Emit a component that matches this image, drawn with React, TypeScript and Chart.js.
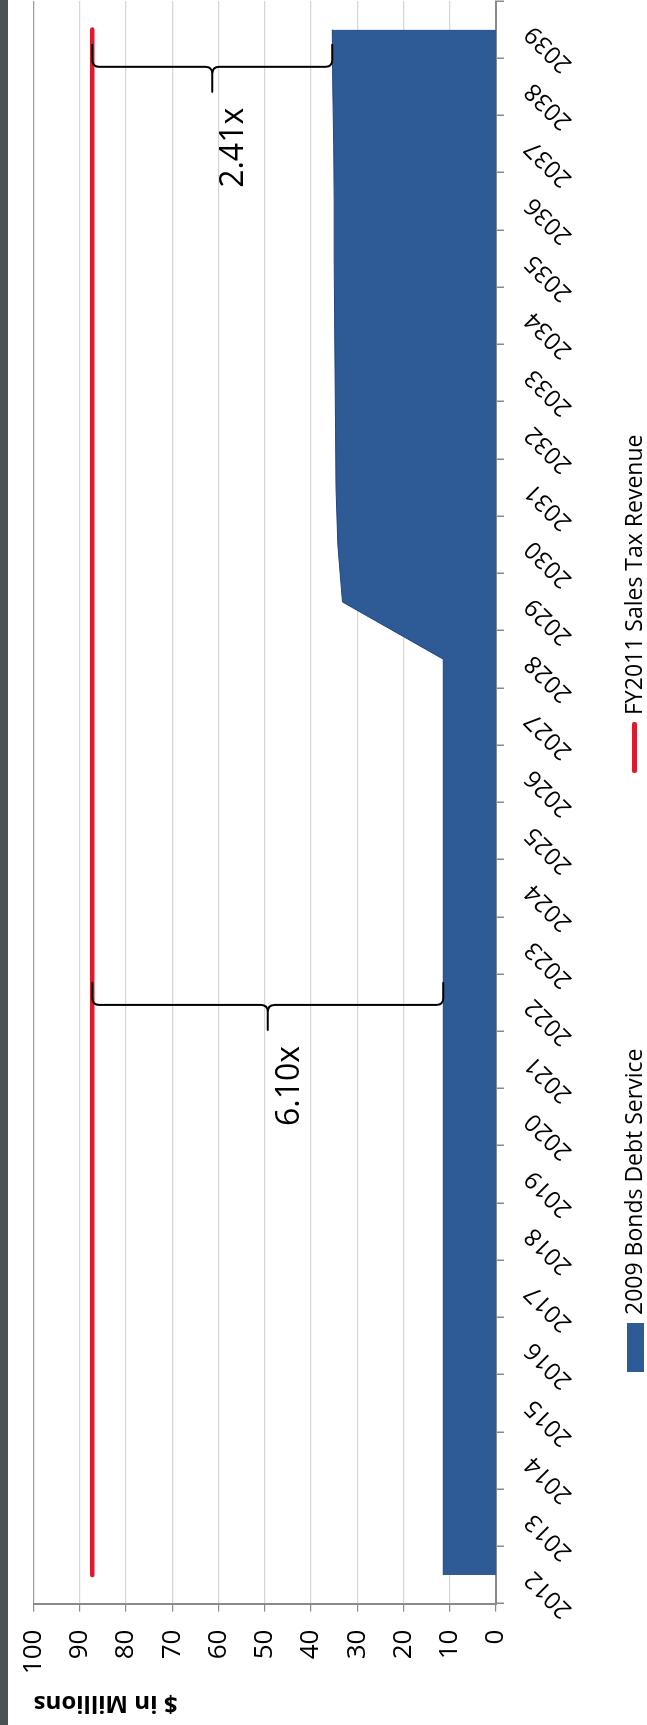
import React, { useEffect, useRef } from 'react';
import { Chart, registerables } from 'chart.js';

Chart.register(...registerables);

const years = [
  '2012', '2013', '2014', '2015', '2016', '2017', '2018', '2019', '2020', '2021',
  '2022', '2023', '2024', '2025', '2026', '2027', '2028', '2029', '2030', '2031',
  '2032', '2033', '2034', '2035', '2036', '2037', '2038', '2039',
];

const debtService = [
  11.4, 11.4, 11.4, 11.4, 11.4, 11.4, 11.4, 11.4, 11.4, 11.4,
  11.4, 11.4, 11.4, 11.4, 11.4, 11.4, 11.4, 33.2, 34.2, 34.6,
  34.7, 34.8, 34.9, 35.0, 35.0, 35.1, 35.3, 35.4,
];

const salesTax = [
  87.3, 87.3, 87.3, 87.3, 87.3, 87.3, 87.3, 87.3, 87.3, 87.3,
  87.3, 87.3, 87.3, 87.3, 87.3, 87.3, 87.3, 87.3, 87.3, 87.3,
  87.3, 87.3, 87.3, 87.3, 87.3, 87.3, 87.3, 87.3,
];

const seriesNames = ['2009 Bonds Debt Service', 'FY2011 Sales Tax Revenue'];
const axisTitle = '$ in Millions';

// coverage annotations: category index where the brace sits, and the two values it spans
const coverageLabels = ['6.10x', '2.41x'];
const coverageAt = [9.96, 26.35];
const coverageFrom = [87.3, 87.3];
const coverageTo = [11.4, 35.4];

const BLUE = '#2e5a95';
const RED = '#e01a2e';
const FONT = '"Open Sans", "DejaVu Sans", sans-serif';

const W = 1740; // original (unrotated) chart width
const H = 700; // original (unrotated) chart height

const bracePlugin = {
  id: 'coverageBraces',
  afterDatasetsDraw(chart: any) {
    const { ctx } = chart;
    const xs = chart.scales.x;
    const ys = chart.scales.y;
    ctx.save();
    ctx.strokeStyle = '#000';
    ctx.lineWidth = 2;
    ctx.lineJoin = 'round';
    ctx.lineCap = 'round';
    coverageLabels.forEach((label, i) => {
      const xb = xs.getPixelForValue(coverageAt[i]);
      const ya = ys.getPixelForValue(coverageFrom[i]);
      const yb = ys.getPixelForValue(coverageTo[i]);
      const ym = (ya + yb) / 2;
      const hook = 22;
      const point = 25;
      const r = 7;
      ctx.beginPath();
      ctx.moveTo(xb + hook, ya);
      ctx.lineTo(xb + r, ya);
      ctx.quadraticCurveTo(xb, ya, xb, ya + r);
      ctx.lineTo(xb, ym - r);
      ctx.quadraticCurveTo(xb, ym, xb - r, ym);
      ctx.lineTo(xb - point, ym);
      ctx.moveTo(xb - r, ym);
      ctx.quadraticCurveTo(xb, ym, xb, ym + r);
      ctx.lineTo(xb, yb - r);
      ctx.quadraticCurveTo(xb, yb, xb + r, yb);
      ctx.lineTo(xb + hook, yb);
      ctx.stroke();
      ctx.fillStyle = '#000';
      ctx.font = `32px ${FONT}`;
      ctx.textAlign = 'right';
      ctx.textBaseline = 'alphabetic';
      ctx.fillText(label, xb - point - 16, ym + 31);
    });
    ctx.restore();
  },
};

function ChartView() {
  const ref = useRef<HTMLCanvasElement | null>(null);
  useEffect(() => {
    if (!ref.current) return;
    const chart = new Chart(ref.current, {
      type: 'line',
      data: {
        labels: years,
        datasets: [
          {
            label: seriesNames[1],
            data: salesTax,
            borderColor: RED,
            backgroundColor: RED,
            borderWidth: 4.5,
            borderCapStyle: 'round',
            pointRadius: 0,
            fill: false,
            tension: 0,
            order: 1,
          },
          {
            label: seriesNames[0],
            data: debtService,
            borderColor: '#22467e',
            backgroundColor: BLUE,
            borderWidth: 1,
            pointRadius: 0,
            fill: 'origin',
            tension: 0,
            order: 2,
          },
        ],
      },
      options: {
        animation: false,
        responsive: false,
        devicePixelRatio: 1,
        layout: { padding: { top: 20.6, right: 16, bottom: 0, left: 0 } },
        plugins: {
          legend: { display: false },
          tooltip: { enabled: false },
        },
        scales: {
          x: {
            type: 'category',
            offset: true,
            grid: {
              display: true,
              drawOnChartArea: false,
              drawTicks: true,
              tickLength: 8,
              offset: true,
              color: '#8a8a8a',
              lineWidth: 1.5,
            },
            border: { display: true, color: '#8a8a8a', width: 2 },
            ticks: {
              autoSkip: false,
              minRotation: 45,
              maxRotation: 45,
              padding: 15,
              color: '#000',
              font: { family: FONT, size: 24 },
            },
            afterFit: (s: any) => {
              s.height = H - 496;
            },
          },
          y: {
            min: 0,
            max: 100,
            ticks: {
              stepSize: 10,
              padding: 18,
              color: '#000',
              font: { family: FONT, size: 26 },
            },
            grid: {
              color: (c: any) => (c.tick && c.tick.value === 100 ? '#9e9e9e' : '#d6d6d6'),
              tickColor: '#8a8a8a',
              tickLength: 8,
              lineWidth: 1.2,
            },
            border: { display: true, color: '#8a8a8a', width: 2 },
            title: {
              display: true,
              text: axisTitle,
              align: 'end',
              color: '#000',
              font: { family: FONT, size: 24, weight: 'bold' },
              padding: { top: 8, bottom: 0 },
            },
            afterFit: (s: any) => {
              s.width = 121.4;
            },
          },
        },
      },
      plugins: [bracePlugin],
    } as any);
    return () => chart.destroy();
  }, []);

  const legendText: React.CSSProperties = {
    position: 'absolute',
    top: 621,
    fontFamily: FONT,
    fontSize: 23,
    lineHeight: '24px',
    color: '#000',
    whiteSpace: 'nowrap',
  };

  return (
    <div
      style={{
        position: 'absolute',
        left: 0,
        top: 0,
        width: W,
        height: H,
        transformOrigin: '0 0',
        transform: 'translateY(1725px) rotate(-90deg)',
      }}
    >
      <canvas ref={ref} width={W} height={H} style={{ width: W, height: H, display: 'block' }} />
      <div style={{ position: 'absolute', left: 353, top: 627, width: 49, height: 17, background: BLUE }} />
      <div style={{ ...legendText, left: 410 }}>{seriesNames[0]}</div>
      <div style={{ position: 'absolute', left: 952, top: 632, width: 51, height: 5, background: RED, borderRadius: 2 }} />
      <div style={{ ...legendText, left: 1010 }}>{seriesNames[1]}</div>
    </div>
  );
}

export default function App() {
  return (
    <div
      style={{
        position: 'absolute',
        left: 0,
        top: 0,
        width: 647,
        height: 1725,
        overflow: 'hidden',
        background: '#fff',
      }}
    >
      <ChartView />
      <div style={{ position: 'absolute', left: 0, top: 0, width: 8, height: 1725, background: '#4a5353' }} />
    </div>
  );
}
